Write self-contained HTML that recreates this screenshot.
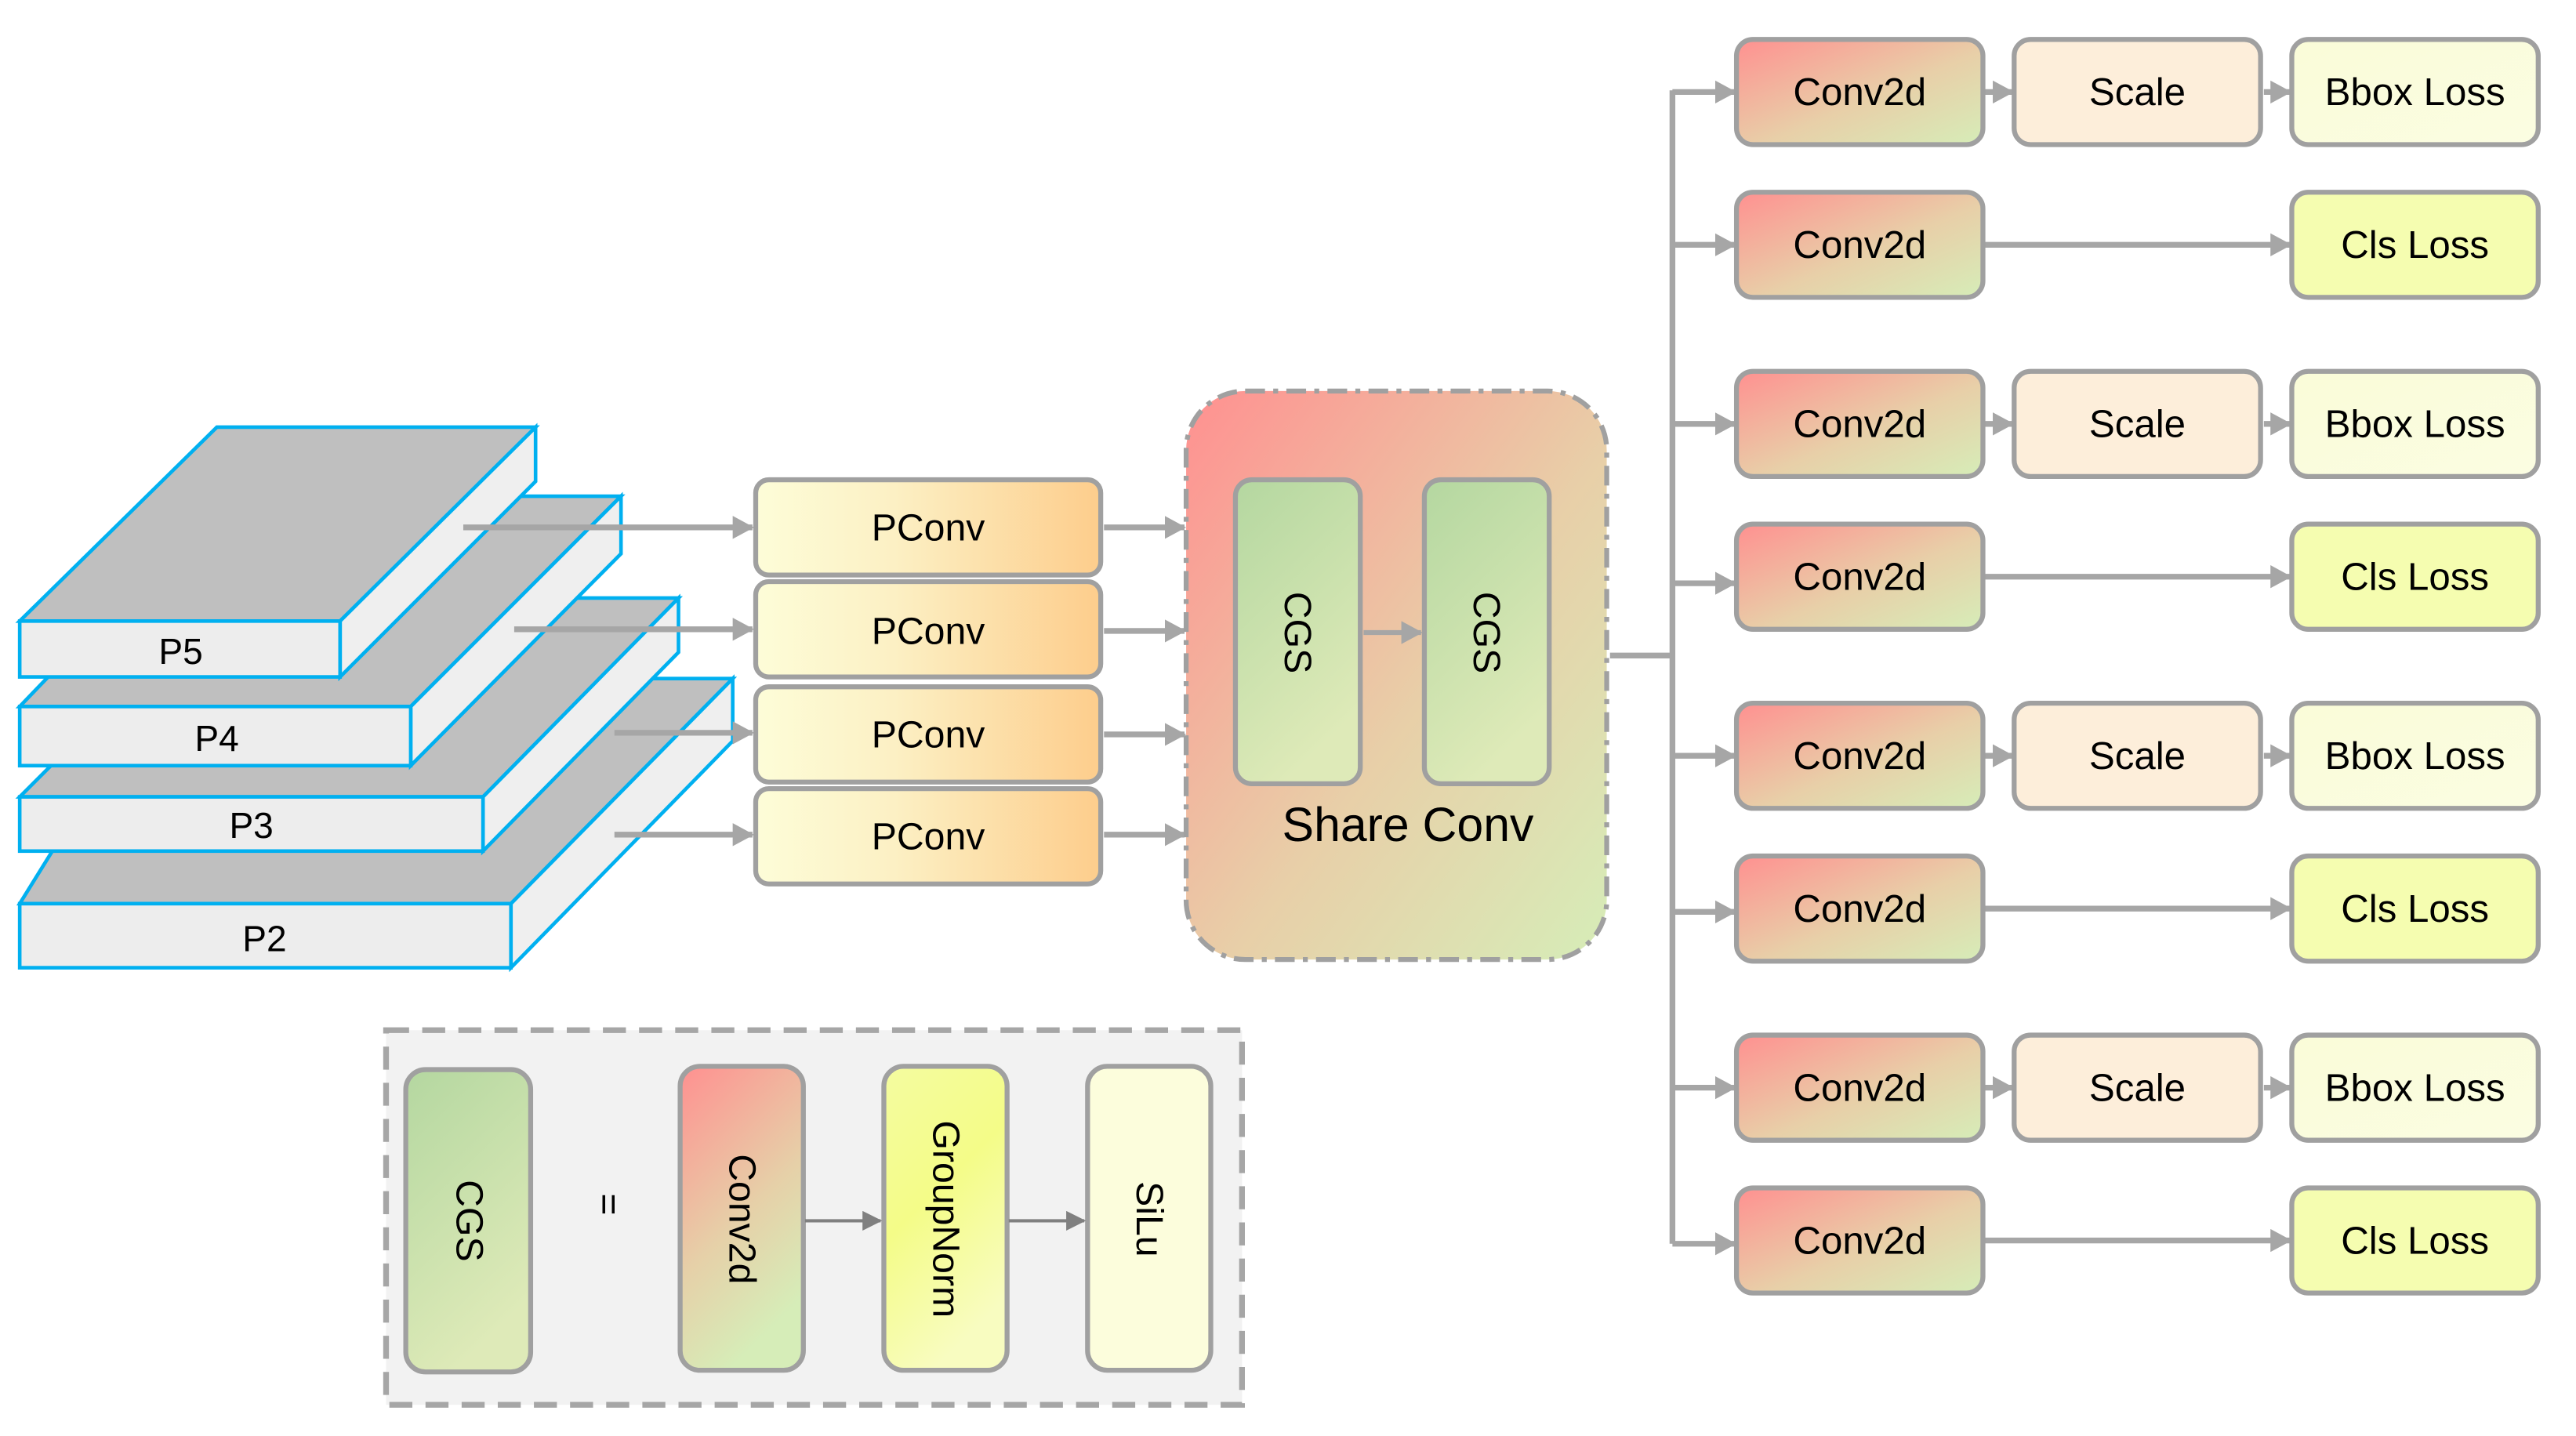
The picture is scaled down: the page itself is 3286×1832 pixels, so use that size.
<!DOCTYPE html>
<html><head><meta charset="utf-8"><style>
html,body{margin:0;padding:0;background:#fff;}
svg{display:block;}
text{font-family:"Liberation Sans",sans-serif;fill:#000;}
</style></head><body>
<svg width="3286" height="1832" viewBox="0 0 1568 874" preserveAspectRatio="none" xmlns="http://www.w3.org/2000/svg">
<defs>
<linearGradient id="pc" x1="0" y1="0" x2="1" y2="0"><stop offset="0" stop-color="#FDFDD8"/><stop offset="0.4" stop-color="#FCF0C4"/><stop offset="1" stop-color="#FDCD8C"/></linearGradient>
<linearGradient id="rg" x1="0" y1="0" x2="1" y2="1"><stop offset="0" stop-color="#FF9090"/><stop offset="0.55" stop-color="#E8CFA8"/><stop offset="1" stop-color="#D6EDB8"/></linearGradient>
<linearGradient id="rgv" x1="0" y1="0" x2="0.4" y2="1"><stop offset="0" stop-color="#FF9090"/><stop offset="0.6" stop-color="#E6D0A8"/><stop offset="1" stop-color="#D6EDB8"/></linearGradient>
<linearGradient id="cg" x1="0" y1="0" x2="0.4" y2="1"><stop offset="0" stop-color="#B4D7A0"/><stop offset="1" stop-color="#DEEAB8"/></linearGradient>
<linearGradient id="gn" x1="0" y1="0" x2="0.4" y2="1"><stop offset="0" stop-color="#F4FCA0"/><stop offset="0.5" stop-color="#F4FC88"/><stop offset="1" stop-color="#F8FCC0"/></linearGradient>
<linearGradient id="bb" x1="0" y1="0" x2="1" y2="1"><stop offset="0" stop-color="#FAFCD8"/><stop offset="1" stop-color="#FBFDE2"/></linearGradient>
<marker id="ah" markerWidth="13" markerHeight="14" refX="12" refY="7" orient="auto" markerUnits="userSpaceOnUse"><path d="M0,0 L13,7 L0,14 z" fill="#A6A6A6"/></marker>
<marker id="ahd" markerWidth="12" markerHeight="12" refX="11" refY="6" orient="auto" markerUnits="userSpaceOnUse"><path d="M0,0 L12,6 L0,12 z" fill="#808080"/></marker>
</defs>

<g stroke="#00B0F0" stroke-width="2.2" stroke-linejoin="miter">
<polygon points="12,550 97,413 446,413 311,550" fill="#BFBFBF"/>
<polygon points="311,550 446,413 446,451 311,589" fill="#EFEFEF"/>
<rect x="12" y="550" width="299" height="39" fill="#EDEDED"/>
<polygon points="12,485 133,364 413,364 294,485" fill="#BFBFBF"/>
<polygon points="294,485 413,364 413,397 294,518" fill="#EFEFEF"/>
<rect x="12" y="485" width="282" height="33" fill="#EDEDED"/>
<polygon points="12,430 135,302 378,302 250,430" fill="#BFBFBF"/>
<polygon points="250,430 378,302 378,337 250,466" fill="#EFEFEF"/>
<rect x="12" y="430" width="238" height="36" fill="#EDEDED"/>
<polygon points="12,378 132,260 326,260 207,378" fill="#BFBFBF"/>
<polygon points="207,378 326,260 326,293 207,412" fill="#EFEFEF"/>
<rect x="12" y="378" width="195" height="34" fill="#EDEDED"/>
</g>
<g font-size="22" text-anchor="middle">
<text x="110" y="404">P5</text>
<text x="132" y="457">P4</text>
<text x="153" y="510">P3</text>
<text x="161" y="579">P2</text>
</g>

<g stroke="#A6A6A6" stroke-width="3.5" marker-end="url(#ah)">
<line x1="282" y1="321" x2="458" y2="321"/>
<line x1="313" y1="383" x2="458" y2="383"/>
<line x1="374" y1="446" x2="458" y2="446"/>
<line x1="374" y1="508" x2="458" y2="508"/>
<line x1="672" y1="321" x2="721" y2="321"/>
<line x1="672" y1="384" x2="721" y2="384"/>
<line x1="672" y1="447" x2="721" y2="447"/>
<line x1="672" y1="508" x2="721" y2="508"/>
</g>

<g stroke="#A0A0A0" stroke-width="3" fill="url(#pc)">
<rect x="460" y="292" width="210" height="58" rx="8"/>
<rect x="460" y="354" width="210" height="58" rx="8"/>
<rect x="460" y="418" width="210" height="58" rx="8"/>
<rect x="460" y="480" width="210" height="58" rx="8"/>
</g>
<g font-size="23" text-anchor="middle">
<text x="565" y="329">PConv</text>
<text x="565" y="392">PConv</text>
<text x="565" y="455">PConv</text>
<text x="565" y="517">PConv</text>
</g>

<rect x="722" y="238" width="256" height="346" rx="36" fill="url(#rg)" stroke="#A0A0A0" stroke-width="3" stroke-dasharray="12,5,3,5"/>
<g stroke="#A0A0A0" stroke-width="3" fill="url(#cg)">
<rect x="752" y="292" width="76" height="185" rx="10"/>
<rect x="867" y="292" width="76" height="185" rx="10"/>
</g>
<line x1="830" y1="385" x2="865" y2="385" stroke="#A6A6A6" stroke-width="3" marker-end="url(#ah)"/>
<g font-size="23" text-anchor="middle">
<text transform="translate(782,385) rotate(90)">CGS</text>
<text transform="translate(897,385) rotate(90)">CGS</text>
</g>
<text x="857" y="512" font-size="29" text-anchor="middle">Share Conv</text>

<g stroke="#A6A6A6" stroke-width="3.5" fill="none">
<line x1="980" y1="399" x2="1018" y2="399"/>
<line x1="1018" y1="55" x2="1018" y2="757"/>
</g>
<g stroke="#A6A6A6" stroke-width="3.5" marker-end="url(#ah)">
<line x1="1018" y1="56" x2="1056" y2="56"/>
<line x1="1018" y1="149" x2="1056" y2="149"/>
<line x1="1018" y1="258" x2="1056" y2="258"/>
<line x1="1018" y1="355" x2="1056" y2="355"/>
<line x1="1018" y1="460" x2="1056" y2="460"/>
<line x1="1018" y1="555" x2="1056" y2="555"/>
<line x1="1018" y1="662" x2="1056" y2="662"/>
<line x1="1018" y1="757" x2="1056" y2="757"/>
<line x1="1208" y1="56" x2="1225" y2="56"/><line x1="1378" y1="56" x2="1394" y2="56"/>
<line x1="1208" y1="258" x2="1225" y2="258"/><line x1="1378" y1="258" x2="1394" y2="258"/>
<line x1="1208" y1="460" x2="1225" y2="460"/><line x1="1378" y1="460" x2="1394" y2="460"/>
<line x1="1208" y1="662" x2="1225" y2="662"/><line x1="1378" y1="662" x2="1394" y2="662"/>
<line x1="1208" y1="149" x2="1394" y2="149"/>
<line x1="1208" y1="351" x2="1394" y2="351"/>
<line x1="1208" y1="553" x2="1394" y2="553"/>
<line x1="1208" y1="755" x2="1394" y2="755"/>
</g>

<g stroke="#A0A0A0" stroke-width="3">
<g fill="url(#rg)">
<rect x="1057" y="24" width="150" height="64" rx="10"/>
<rect x="1057" y="117" width="150" height="64" rx="10"/>
<rect x="1057" y="226" width="150" height="64" rx="10"/>
<rect x="1057" y="319" width="150" height="64" rx="10"/>
<rect x="1057" y="428" width="150" height="64" rx="10"/>
<rect x="1057" y="521" width="150" height="64" rx="10"/>
<rect x="1057" y="630" width="150" height="64" rx="10"/>
<rect x="1057" y="723" width="150" height="64" rx="10"/>
</g>
<g fill="#FDEEDA">
<rect x="1226" y="24" width="150" height="64" rx="10"/>
<rect x="1226" y="226" width="150" height="64" rx="10"/>
<rect x="1226" y="428" width="150" height="64" rx="10"/>
<rect x="1226" y="630" width="150" height="64" rx="10"/>
</g>
<g fill="url(#bb)">
<rect x="1395" y="24" width="150" height="64" rx="10"/>
<rect x="1395" y="226" width="150" height="64" rx="10"/>
<rect x="1395" y="428" width="150" height="64" rx="10"/>
<rect x="1395" y="630" width="150" height="64" rx="10"/>
</g>
<g fill="#F5FDB0">
<rect x="1395" y="117" width="150" height="64" rx="10"/>
<rect x="1395" y="319" width="150" height="64" rx="10"/>
<rect x="1395" y="521" width="150" height="64" rx="10"/>
<rect x="1395" y="723" width="150" height="64" rx="10"/>
</g>
</g>
<g font-size="23.5" text-anchor="middle">
<text x="1132" y="64">Conv2d</text><text x="1301" y="64">Scale</text><text x="1470" y="64">Bbox Loss</text>
<text x="1132" y="157">Conv2d</text><text x="1470" y="157">Cls Loss</text>
<text x="1132" y="266">Conv2d</text><text x="1301" y="266">Scale</text><text x="1470" y="266">Bbox Loss</text>
<text x="1132" y="359">Conv2d</text><text x="1470" y="359">Cls Loss</text>
<text x="1132" y="468">Conv2d</text><text x="1301" y="468">Scale</text><text x="1470" y="468">Bbox Loss</text>
<text x="1132" y="561">Conv2d</text><text x="1470" y="561">Cls Loss</text>
<text x="1132" y="670">Conv2d</text><text x="1301" y="670">Scale</text><text x="1470" y="670">Bbox Loss</text>
<text x="1132" y="763">Conv2d</text><text x="1470" y="763">Cls Loss</text>
</g>

<rect x="235" y="627" width="521" height="228" fill="#F2F2F2" stroke="#A6A6A6" stroke-width="3.5" stroke-dasharray="14,8"/>
<g stroke="#A0A0A0" stroke-width="3">
<rect x="247" y="651" width="76" height="184" rx="12" fill="url(#cg)"/>
<rect x="414" y="649" width="75" height="185" rx="12" fill="url(#rgv)"/>
<rect x="538" y="649" width="75" height="185" rx="12" fill="url(#gn)"/>
<rect x="662" y="649" width="75" height="185" rx="12" fill="#FCFDDC"/>
</g>
<g stroke="#808080" stroke-width="2" marker-end="url(#ahd)">
<line x1="490" y1="743" x2="536" y2="743"/>
<line x1="614" y1="743" x2="660" y2="743"/>
</g>
<g font-size="23" text-anchor="middle">
<text transform="translate(278,743) rotate(90)">CGS</text>
<text transform="translate(363,733) rotate(90)">=</text>
<text transform="translate(444,742) rotate(90)">Conv2d</text>
<text transform="translate(568,742) rotate(90)">GroupNorm</text>
<text transform="translate(692,742) rotate(90)">SiLu</text>
</g>
</svg>
</body></html>
